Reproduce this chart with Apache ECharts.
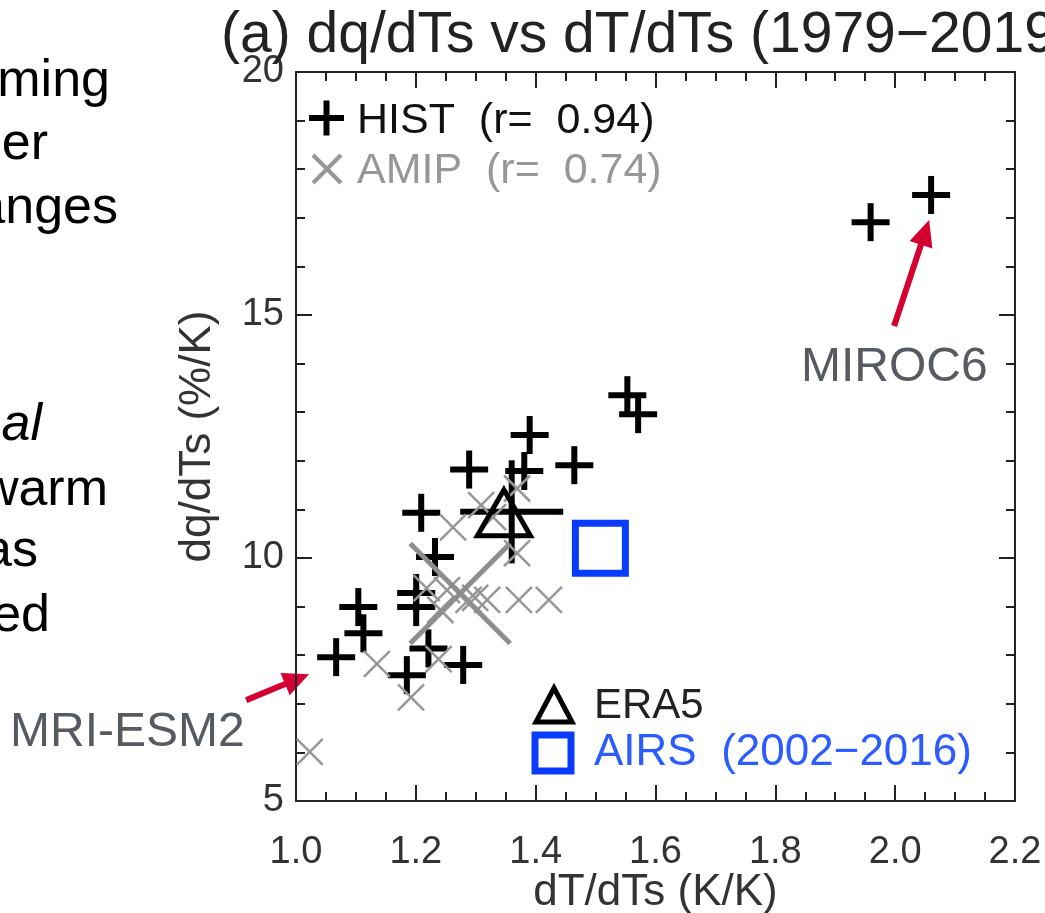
<!DOCTYPE html>
<html><head><meta charset="utf-8">
<script src="https://cdn.jsdelivr.net/npm/echarts@6/dist/echarts.min.js"></script>
<style>html,body{margin:0;padding:0;background:#fff}#c{width:1045px;height:913px}</style>
</head><body><div id="c"></div>
<script>
// ---- data ----
const histX = [2.060, 1.959, 1.553, 1.571, 1.390, 1.289, 1.381, 1.4645, 1.209, 1.232, 1.2006, 1.2006, 1.104, 1.1125, 1.067, 1.221, 1.185, 1.279];
const histY = [17.47, 16.91, 13.35, 12.96, 12.53, 11.82, 11.79, 11.91, 10.93, 10.02, 9.28, 8.99, 8.99, 8.45, 7.96, 8.14, 7.59, 7.80];
const amipX = [1.023, 1.135, 1.192, 1.238, 1.262, 1.309, 1.329, 1.369, 1.369, 1.288, 1.319, 1.372, 1.422, 1.218, 1.252, 1.299, 1.241];
const amipY = [6.01, 7.82, 7.13, 7.92, 10.63, 11.09, 10.84, 11.43, 10.10, 9.14, 9.14, 9.14, 9.14, 9.38, 9.34, 9.18, 8.93];
const histMean = [1.360, 10.95];
const amipMean = [1.274, 9.27];
const era5 = [1.347, 10.93];
const airs = [1.508, 10.20];
const histR = '0.94';
const amipR = '0.74';
const xMin = 1.0, xMax = 2.2, xStep = 0.2;
const yMin = 5, yMax = 20, yStep = 5;
const titleText = '(a) dq/dTs vs dT/dTs (1979\u22122019)';
const xName = 'dT/dTs (K/K)';
const yName = 'dq/dTs (%/K)';
const mirocIndex = 0;
const mriIndex = 14;
const sideText = [
  {t:'ming', r:110, b:98, it:false},
  {t:'er', r:48, b:161, it:false},
  {t:'anges', r:118, b:225, it:false},
  {t:'eal', r:42, b:442, it:true},
  {t:'warm', r:108, b:507, it:false},
  {t:'as', r:38, b:568, it:false},
  {t:'ed', r:50, b:633, it:false}
];

// ---- style ----
const FONT = "'Liberation Sans', Arial, sans-serif";
const AX = '#222';
const GREY = '#979797';
const BLUE = '#0a3cff';
const RED = '#d40032';

function zip(a, b){ return a.map((v,i)=>[v, b[i]]); }

function plusRender(size, lw, color){
  return function(params, api){
    const p = api.coord([api.value(0), api.value(1)]);
    const h = size/2;
    return {type:'group', children:[
      {type:'line', shape:{x1:p[0]-h, y1:p[1], x2:p[0]+h, y2:p[1]}, style:{stroke:color, lineWidth:lw}},
      {type:'line', shape:{x1:p[0], y1:p[1]-h, x2:p[0], y2:p[1]+h}, style:{stroke:color, lineWidth:lw}}
    ]};
  };
}
function crossRender(size, lw, color){
  return function(params, api){
    const p = api.coord([api.value(0), api.value(1)]);
    const h = size/2;
    return {type:'group', children:[
      {type:'line', shape:{x1:p[0]-h, y1:p[1]-h, x2:p[0]+h, y2:p[1]+h}, style:{stroke:color, lineWidth:lw}},
      {type:'line', shape:{x1:p[0]-h, y1:p[1]+h, x2:p[0]+h, y2:p[1]-h}, style:{stroke:color, lineWidth:lw}}
    ]};
  };
}
function triRender(w, h, lw, color){
  return function(params, api){
    const p = api.coord([api.value(0), api.value(1)]);
    return {type:'polygon', shape:{points:[[p[0], p[1]-h/2],[p[0]+w/2, p[1]+h/2],[p[0]-w/2, p[1]+h/2]]},
      style:{fill:'none', stroke:color, lineWidth:lw, lineJoin:'miter'}};
  };
}
function sqRender(s, lw, color){
  return function(params, api){
    const p = api.coord([api.value(0), api.value(1)]);
    return {type:'rect', shape:{x:p[0]-s/2, y:p[1]-s/2, width:s, height:s},
      style:{fill:'none', stroke:color, lineWidth:lw, lineJoin:'miter'}};
  };
}

const tickStyle = {color:AX, width:2};
function xAxisDef(pos, labels){
  return {type:'value', position:pos, min:xMin, max:xMax, interval:xStep,
    axisLine:{show:true, onZero:false, lineStyle:{color:AX, width:2}},
    axisTick:{show:true, inside:true, length:16, lineStyle:tickStyle},
    minorTick:{show:true, splitNumber:4, length:9, lineStyle:tickStyle},
    splitLine:{show:false},
    axisLabel:{show:labels, margin:33, fontSize:38, color:'#333', fontFamily:FONT,
      formatter:v=>v.toFixed(1)},
    name: labels ? xName : '', nameLocation:'middle', nameGap:70, nameMoveOverlap:false,
    nameTextStyle:{fontSize:44, color:'#333', fontFamily:FONT}
  };
}
function yAxisDef(pos, labels){
  return {type:'value', position:pos, min:yMin, max:yMax, interval:yStep,
    axisLine:{show:true, onZero:false, lineStyle:{color:AX, width:2}},
    axisTick:{show:true, inside:true, length:16, lineStyle:tickStyle},
    minorTick:{show:true, splitNumber:5, length:9, lineStyle:tickStyle},
    splitLine:{show:false},
    axisLabel:{show:labels, margin:12, fontSize:38, color:'#333', fontFamily:FONT, padding:[6,0,0,0]},
    name: labels ? yName : '', nameLocation:'middle', nameGap:76, nameMoveOverlap:false,
    nameTextStyle:{fontSize:44, color:'#333', fontFamily:FONT}
  };
}

const option = {
  animation:false,
  backgroundColor:'#fff',
  grid:{left:296, right:30, top:72, bottom:112, containLabel:false, outerBoundsMode:'none'},
  xAxis:[xAxisDef('bottom', true), xAxisDef('top', false)],
  yAxis:[yAxisDef('left', true), yAxisDef('right', false)],
  series:[
    {type:'custom', name:'HIST', xAxisIndex:0, yAxisIndex:0, encode:{x:0,y:1}, clip:false, z:2,
      renderItem:plusRender(38, 6, '#000'), data:zip(histX, histY)},
    {type:'custom', name:'HIST mean', xAxisIndex:0, yAxisIndex:0, encode:{x:0,y:1}, clip:false, z:3,
      renderItem:plusRender(103, 6, '#000'), data:[histMean]},
    {type:'custom', name:'AMIP', xAxisIndex:0, yAxisIndex:0, encode:{x:0,y:1}, clip:false, z:4,
      renderItem:crossRender(26, 2.5, GREY), data:zip(amipX, amipY)},
    {type:'custom', name:'AMIP mean', xAxisIndex:0, yAxisIndex:0, encode:{x:0,y:1}, clip:false, z:5,
      renderItem:crossRender(100, 5, '#8e8e8e'), data:[amipMean]},
    {type:'custom', name:'ERA5', xAxisIndex:0, yAxisIndex:0, encode:{x:0,y:1}, clip:false, z:6,
      renderItem:triRender(53, 46, 5, '#000'), data:[era5]},
    {type:'custom', name:'AIRS', xAxisIndex:0, yAxisIndex:0, encode:{x:0,y:1}, clip:false, z:6,
      renderItem:sqRender(50, 7, BLUE), data:[airs]}
  ]
};

const chart = echarts.init(document.getElementById('c'), null, {renderer:'canvas'});
chart.setOption(option);

function txt(id, text, x, y, size, color, align, opts){
  opts = opts || {};
  return {type:'text', id:id, x:x, y:y, rotation:opts.rot||0, z:20,
    style:{text:text, fontSize:size, fontFamily:FONT, fontStyle:opts.italic?'italic':'normal',
      fill:color, align:align, textAlign:align, verticalAlign:'middle', textVerticalAlign:'middle'}};
}
function arrow(id, tail, tip, lw, headL, headW, color){
  const dx = tip[0]-tail[0], dy = tip[1]-tail[1];
  const L = Math.hypot(dx, dy); const ux = dx/L, uy = dy/L; const nx = -uy, ny = ux;
  const bx = tip[0]-ux*headL, by = tip[1]-uy*headL;
  return {type:'group', id:id, z:20, children:[
    {type:'line', shape:{x1:tail[0], y1:tail[1], x2:bx+ux*2, y2:by+uy*2}, style:{stroke:color, lineWidth:lw}},
    {type:'polygon', shape:{points:[[tip[0],tip[1]],[bx+nx*headW/2, by+ny*headW/2],[bx-nx*headW/2, by-ny*headW/2]]},
      style:{fill:color, stroke:null}}
  ]};
}

const toPx = p => chart.convertToPixel({xAxisIndex:0, yAxisIndex:0}, p);
const mir = toPx([histX[mirocIndex], histY[mirocIndex]]);
const mri = toPx([histX[mriIndex], histY[mriIndex]]);

const g = [];
g.push(txt('title', titleText, 221, 36, 57, '#222', 'left'));
// legend top-left
g.push({type:'group', id:'lgPlus', z:20, children:[
  {type:'line', shape:{x1:309, y1:118, x2:344, y2:118}, style:{stroke:'#000', lineWidth:6}},
  {type:'line', shape:{x1:326.5, y1:100.5, x2:326.5, y2:135.5}, style:{stroke:'#000', lineWidth:6}}
]});
g.push(txt('lgHist', 'HIST  (r=  ' + histR + ')', 357, 121, 43, '#111', 'left'));
g.push({type:'group', id:'lgX', z:20, children:[
  {type:'line', shape:{x1:313, y1:155, x2:341, y2:183}, style:{stroke:GREY, lineWidth:4}},
  {type:'line', shape:{x1:313, y1:183, x2:341, y2:155}, style:{stroke:GREY, lineWidth:4}}
]});
g.push(txt('lgAmip', 'AMIP  (r=  ' + amipR + ')', 357, 171, 43, GREY, 'left'));
// legend bottom
g.push({type:'polygon', id:'lgTri', z:20, shape:{points:[[554,688],[572,722],[536,722]]},
  style:{fill:'none', stroke:'#000', lineWidth:5, lineJoin:'miter'}});
g.push(txt('lgEra', 'ERA5', 594, 706, 42, '#222', 'left'));
g.push({type:'rect', id:'lgSq', z:20, shape:{x:535, y:735, width:36, height:36},
  style:{fill:'none', stroke:BLUE, lineWidth:7}});
g.push(txt('lgAirs', 'AIRS  (2002\u22122016)', 594, 753, 44, '#2a5cff', 'left'));
// annotations
g.push(arrow('arMir', [mir[0]-37, mir[1]+131], [mir[0]-2, mir[1]+25], 6, 26, 24, RED));
g.push(txt('tMir', 'MIROC6', 801, 368, 48, '#565b62', 'left'));
g.push(arrow('arMri', [mri[0]-90, mri[1]+43], [mri[0]-27, mri[1]+17], 6, 26, 24, RED));
g.push(txt('tMri', 'MRI-ESM2', 10, 733, 48, '#565b62', 'left'));
// cropped slide text on the left
sideText.forEach((s, i) => g.push(txt('side'+i, s.t, s.r, s.b - 16, 52, '#000', 'right', {italic:s.it})));

chart.setOption({graphic:g});
</script>
</body></html>
